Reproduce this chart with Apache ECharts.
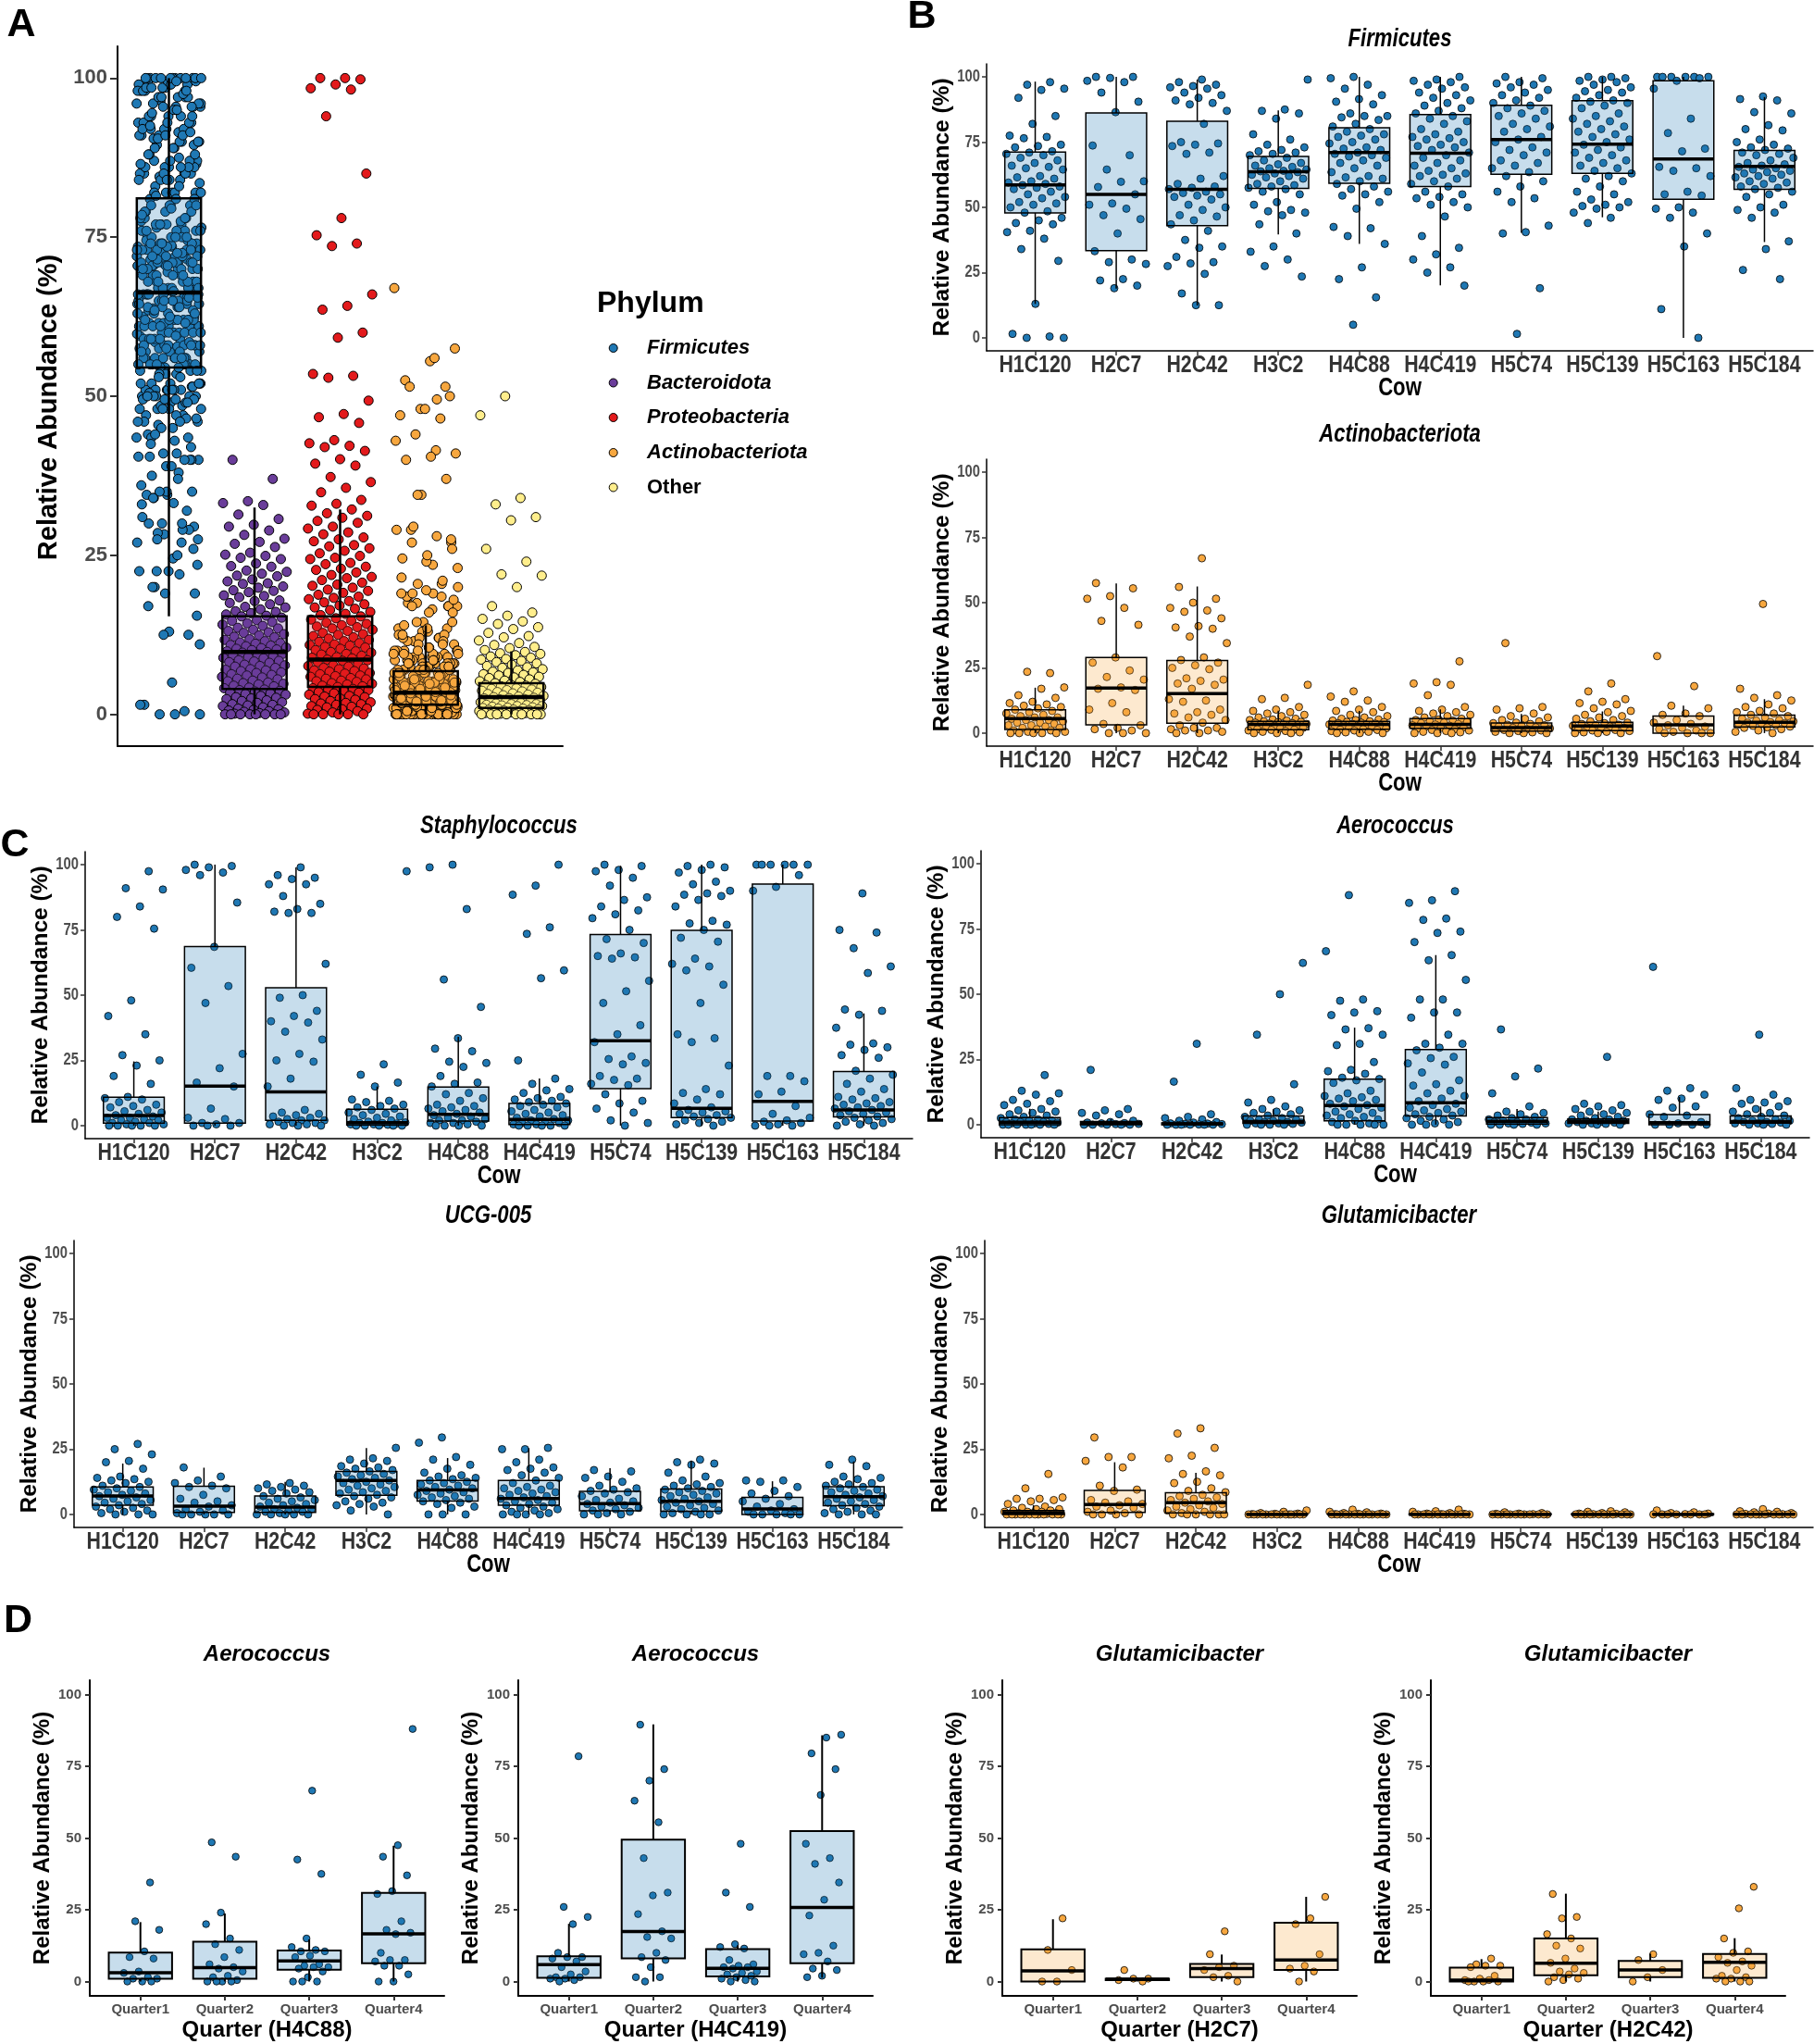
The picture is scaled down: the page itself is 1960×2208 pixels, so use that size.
<!DOCTYPE html>
<html>
<head>
<meta charset="utf-8">
<script src="https://cdn.jsdelivr.net/npm/echarts@6.0.0/dist/echarts.min.js"></script>
<style>html,body{margin:0;padding:0;background:#fff;}#chart{width:1960px;height:2208px;}</style>
</head>
<body>
<div id="chart"></div>
<script>
// ---------------- DATA ----------------
const cows = ['H1C120','H2C7','H2C42','H3C2','H4C88','H4C419','H5C74','H5C139','H5C163','H5C184'];
const quarters = ['Quarter1','Quarter2','Quarter3','Quarter4'];
const phyla = ['Firmicutes','Bacteroidota','Proteobacteria','Actinobacteriota','Other'];
const yTicks = [0,25,50,75,100];

// box stats: [lowerWhisker, Q1, median, Q3, upperWhisker]
const phylumBox = [[15.4,54.5,66.3,81.1,100],[0,4,9.8,15.4,32.5],[0,4.3,8.6,15.4,32.2],[0,1.5,3.4,6.8,14],[0,1,2.7,4.9,9.9]];

const firmicutesBox = [[13,47.9,58.6,71.2,98.2],[18.9,33.4,55,86.2,100],[12.4,43,56.9,83,99],[39.6,57.3,63.7,69.5,87.2],[36,59.2,71,80.5,100],[20.1,58,70.8,85.6,100],[40.2,62.7,76,89.1,100],[46.2,63,74.2,90.9,100],[0,53.1,68.5,98.5,100],[36.7,56.9,65.7,71.8,92.3]];
const firmicutesByCow = [
 [98,97,95.5,95,92,85,82,77.5,77,76.5,74,73.5,73,71.5,71,70.5,70,69,68,67,66,65.5,65,64.5,62,61.5,61,60,59.5,59,58.5,58,57.5,57,56,55,54,53.5,52,51.5,51,50,48.5,48,46,45,44,43.5,41,40.5,38,34,29.5,13,1.5,0.5,0,0],
 [100,100,99.6,98.5,98,94,90.5,86.5,73.7,70,64.5,60,59.8,57.8,55,51.5,51,49.5,47,45.5,40,33.2,30,29,28.3,22.5,22,20,19],
 [99,98,97,96.5,96,95.5,94,93,92,91,90,89.5,87,82,75,74.5,74,73.5,71,70.5,62,61,59,58,57.5,57,56,55.5,55,54.5,54,53,51,50,49,47,46.5,45,43.5,41,37.5,35,34.5,31,29,28.5,27.5,24.5,17,12.5,12.5],
 [99,87.5,87,86,84,78,76,74,73,72,71.5,71,70.5,70,69,68,67,66.5,66,65.5,65,64.5,64,63.8,63.5,63,62.5,62,61.5,61,60,59,58.5,58,57.5,57,56,55,52,51,49,48.5,48,47,43.5,40,35,33,30,27.5,23.5],
 [100,99.5,97,95.5,93,91.5,90.5,89.5,86,85,85,84.5,83.5,82,81,80,79,78,77.5,77,76,75,74.5,73,72.5,72,71,70.5,70,69.5,69,68,67,66,65,63.5,62,61.5,61,60,59,58,57,56,55,54.5,52,49.5,42.5,42,39,36,27,22.5,15.5,5],
 [100,99,98.5,98,97,96,95.5,94,93,92,91,90,89,88,87,86,85,84,83,82,80,79,78,77,76.5,76,75,74,73.5,73,72,71,70,69,68,67,66,65,64,63,62.5,62,61,60,59,58,56,55,54,53.5,52,51,50,46.5,39,34.5,32,30,27,25,20],
 [100,99.5,98,97.5,97,96,95,94,93,92,91,90,89,88,87,86,85,84,82,81,80,79,77,76,75,73,72,71,70,68,67,66,65,63.5,62,60,58,56,53.5,52,43,40.5,40,19,1.5],
 [100,100,99.5,99,98.5,98,97,96,95,94.5,94,93,92,91,90.5,90,89,88,86,85,84,83,82,81,80,79,78,77,76,75,74,73,72,71,70,69,68,67,66,65,64,63,62,61,60,58,56,55,53,52,51,50.5,50,49.5,48,46,44],
 [100,100,100,100,100,100,99.5,98.5,95.5,84,78.5,72.5,71.5,65.5,65,64,62,56,55,54.5,50,49.5,48,46,40,35,11,0],
 [92.5,91.5,91,86.5,86,81.5,80,79.5,76,75,74,73,72.5,72,71,70.5,70,69,68,67,66.5,66,65.5,65,64.5,64,63.5,63,62.5,62,61.5,61,60,59.5,59,58,57.5,57,56,55,54,51,50,49,48,46,37,34,26,22.5]
];

const actinoBox = [[0,1.4,5.6,8.9,17.4],[0,3.2,17.3,29,57.4],[0,3.8,15.1,27.8,56.2],[0,1.3,3.3,4.5,8.6],[0,1.5,3.3,4.5,8.5],[0,1.8,3.3,5.6,9.1],[0,0.8,2.1,3.9,7.3],[0,0.9,2.7,4.1,8.3],[0,0,3.2,6.5,10.5],[0,2.4,4.1,6.9,13]];
const actinoByCow = [
 [23,23.5,17.5,17,14.5,13.5,12,11.5,11,10.5,10,9.5,9,8.5,8,7.5,7,6.5,6,6,5.5,5,5,4.5,4,4,3.5,3,3,2.5,2,2,1.5,1,1,0.5,0.5,0,0,0,0,0],
 [57.5,55.5,52.5,51.5,48,43,41.5,29,27,24,21.5,20.5,17.5,17,16.5,11.5,9,8,3.5,3,2,1.5,1,0,0,0],
 [67,56,51.5,50,48,47,46.5,44,41,40.5,40,37,34.5,29,28,27,26,25,24.5,21,20.5,20,19,18.5,17,13,12.5,12,9,8,7.5,7,6,5,4,3,2,2,1.5,1,1,0.5,0,0],
 [18.5,13.5,13,10,9,8.5,8,7.5,7,6.5,6,5.5,5.2,5,4.8,4.5,4.3,4.2,4,3.8,3.6,3.5,3.3,3.2,3,2.8,2.6,2.5,2.2,2,1.8,1.5,1.3,1.2,1,0.8,0.5,0.3,0,0,0],
 [16,14,12.5,12,10,9,8.5,8,7,6.5,6,5.5,5.2,5,4.8,4.5,4.3,4.2,4,3.8,3.6,3.5,3.3,3.2,3,2.8,2.6,2.5,2.2,2,1.8,1.5,1.3,1.2,1,0.8,0.5,0.3,0,0,0],
 [27.5,19.5,19,18.5,14.5,10,9,8.5,8,7.5,7,6.5,6,5.5,5.2,5,4.8,4.5,4.2,4,3.8,3.5,3.3,3,2.8,2.5,2.2,2,1.8,1.5,1.2,1,0.8,0.5,0.3,0,0,0],
 [34.5,10,9.5,9,7.5,6.5,6,5.5,5,4.5,4,3.8,3.5,3.2,3,2.8,2.5,2.2,2,1.8,1.5,1.2,1,0.8,0.5,0.3,0,0,0],
 [19,16,13,12,11.5,11,9.5,8.5,8,7,6.5,6,5.5,5,4.5,4,3.8,3.5,3.2,3,2.8,2.5,2.2,2,1.8,1.5,1.2,1,0.8,0.5,0.3,0,0,0],
 [29.5,18,10.5,9.5,7.5,7,6.5,5,4,3.5,3,2.5,2,1.5,1,0.5,0,0,0,0],
 [49.5,17,14.5,13.5,12.5,11,10,9.5,8.5,8,7.5,7,6.5,6,5.5,5,4.8,4.5,4.2,4,3.8,3.5,3.3,3,2.8,2.5,2.2,2,1.5,1,0.5,0]
];

// Panel A only phyla (all samples pooled)
const bacteroidotaAll = [40,37,33.5,33.2,32.9,31.4,30.7,29.8,29.5,28.9,28.2,27.6,27.1,26.8,26.3,25.4,25.1,24.9,24.6,24.4,23.7,23.3,23.2,22.6,22.4,22.1,21.8,21.7,21.2,20.9,20.6,20.5,20.1,19.9,19.5,19.4,19.2,18.7,18.6,18.4,17.9,17.8,17.5,17.3,16.9,16.8,16.5,16.2,16.1,15.9,15.7,15.5,15.4,15.2,14.8,14.7,14.5,14.3,14.1,13.9,13.6,13.5,13.3,13.1,12.9,12.8,12.6,12.4,12.2,12.1,11.8,11.7,11.5,11.3,11.2,11.1,10.9,10.8,10.7,10.5,10.4,10.3,10.2,10.1,9.9,9.8,9.7,9.5,9.4,9.3,9.1,9,8.9,8.8,8.5,8.4,8.3,8.2,8.1,7.8,7.7,7.6,7.5,7.3,7.1,7,6.9,6.8,6.6,6.5,6.3,6.2,6.1,5.9,5.8,5.6,5.5,5.3,5.2,5,4.9,4.8,4.7,4.5,4.4,4.2,4.1,3.9,3.8,3.7,3.6,3.4,3.3,3.2,3.1,2.9,2.7,2.6,2.5,2.4,2.2,2.1,1.9,1.8,1.6,1.5,1.4,1.3,1.1,0.9,0.8,0.7,0.6,0.5,0.4,0.3,0.2,0.1,0,0,0,0,0,0,0,0];
const proteobacteriaAll = [100,100,99.8,99,98.4,98.2,94,85,78,75.3,74,73.6,66,64.2,63.6,60,59.2,53.5,53.2,52.9,49.3,47.2,46.7,45.8,43.1,42.6,42.2,42,41.4,40.1,39.4,39.1,37.3,36.5,35.6,34.9,33.7,33.1,32.8,32.2,31.6,31.2,30.9,30.4,30.1,29.5,29.2,28.6,28.3,27.8,27.5,27.2,26.6,26.4,26.1,25.7,25.3,24.9,24.6,24.4,23.8,23.6,23.2,22.9,22.7,22.3,21.9,21.6,21.4,21.1,20.7,20.4,20.2,19.9,19.6,19.4,19.1,18.8,18.5,18.3,18.1,17.8,17.6,17.3,17.1,16.8,16.6,16.4,16.1,15.8,15.6,15.4,15.1,14.9,14.7,14.4,14.2,14,13.8,13.7,13.5,13.3,13.1,12.8,12.6,12.5,12.3,12.1,11.9,11.7,11.5,11.4,11.2,11,10.9,10.8,10.6,10.5,10.3,10.1,9.9,9.8,9.7,9.5,9.4,9.2,9,8.9,8.8,8.6,8.5,8.4,8.2,7.9,7.7,7.6,7.5,7.3,7.2,7.1,6.9,6.8,6.7,6.5,6.4,6.3,6.1,6,5.9,5.7,5.6,5.5,5.3,5.2,5.1,4.9,4.8,4.7,4.5,4.4,4.3,4.1,4,3.9,3.8,3.7,3.5,3.4,3.3,3.1,2.9,2.8,2.7,2.5,2.4,2.3,2.1,1.9,1.8,1.7,1.6,1.5,1.3,1.2,1.1,0.9,0.8,0.7,0.5,0.3,0.1,0,0,0,0,0];
const otherAll = [50,47,34,33,31,30.5,26,24,22,21.8,20,17,16,15.5,15,14.6,14.2,13.7,13.4,12.8,12.3,12.1,11.6,11.2,10.9,10.6,10.4,10.1,9.8,9.6,9.5,9.3,9.1,8.9,8.7,8.6,8.4,8.2,8,7.8,7.6,7.4,7.3,7.1,6.9,6.7,6.6,6.5,6.3,6.2,6.1,5.9,5.8,5.7,5.5,5.3,5.2,5.1,4.9,4.8,4.7,4.6,4.5,4.4,4.3,4.1,4,3.9,3.8,3.7,3.6,3.5,3.4,3.3,3.2,3.1,3,2.9,2.8,2.7,2.6,2.55,2.5,2.4,2.35,2.3,2.2,2.1,2,1.95,1.9,1.8,1.7,1.6,1.6,1.5,1.45,1.4,1.3,1.3,1.2,1.1,1.05,1,0.9,0.9,0.8,0.75,0.7,0.65,0.6,0.5,0.5,0.4,0.35,0.3,0.2,0.2,0.1,0,0,0,0,0,0,0,0,0];

const staphBox = [[0,0.9,3.9,10.9,24.6],[0,0.9,15.1,68.6,100],[0,2,12.9,52.8,99],[0,0.2,1.1,6.3,15],[0,1.7,4.3,14.8,34],[0,0.4,2.4,8.5,18.1],[0,14.2,32.5,73.2,99.6],[0,3.1,6.6,74.8,100],[0,1.7,9.3,92.6,100],[0,3.3,6,20.7,43]];
const staphByCow = [
 [97.5,91,90.5,84,80,75.5,48,42,35,27,25,23,19,16,11,10.5,10,9,8,7.5,7,6,5.5,5,4.5,4,3.5,3,3,2.5,2,2,1.5,1,1,0.5,0.5,0,0,0,0,0],
 [100,99.5,99,98,97,96,85.5,68.5,60.5,53.5,47,27.5,22,16.5,15,6.5,3,2.5,1,1,0.5,0,0,0],
 [99,96,95,94.5,92.5,92.5,88,85,83,82,81.5,81.5,62,50,49,44,42,40,39.5,36,33,27.5,25,24.5,18,15,6,5,4.5,4,3.5,3,2.5,2,2,1.5,1,1,0.5,0.5,0,0,0],
 [97.5,23.5,19.5,16.5,15,10,9.5,9,8,7.5,7,6.5,6,5,4.5,4,3.5,3,2.5,2,1.5,1.2,1,1,0.8,0.5,0.5,0.3,0,0,0,0,0],
 [100,99,83,56,45.5,33.5,29.5,28.5,24.5,24,22.5,19,16.5,16,15,12.5,12,10.5,9.5,8,7.5,7,6.5,6,5.5,5,4.5,4,3.5,3,2.5,2,2,1.5,1,1,0.5,0,0,0,0],
 [100,92,88.5,76,73.5,59.5,56.5,25,18,16,14,13.5,12.5,11,10.5,10,9.5,9,8.5,8,7.5,7,6,5.5,5,4.5,4,3.5,3,2.5,2,2,1.5,1,1,0.5,0.5,0,0,0,0,0],
 [100,99.5,98,97.5,95,92,87.5,86.5,84,82.5,81,79.5,75,71.5,70,66,65,64.5,64,55.5,51.5,47,38.5,35,32,26.5,25.5,24,23.5,19,18,17.5,16,15.5,12,9.5,8.5,6.5,5,2,1,0],
 [100,99.5,99,98,97,93.5,92.5,90,89,88.5,88,86.5,84,78.5,77.5,77,75,72,70.5,64,62,61,59.5,54,47,35,33.5,32,23,14,12.5,12,10,8.5,7,6,5.5,5,4.5,4,3.5,3,2.5,2,1.5,1,0.5,0],
 [100,100,100,100,100,100,96,91.5,90,19,19,17,13,12,7.5,4.5,3,2,1.5,1,0.5,0,0,0],
 [89,75,74,68,61,58.5,44.5,44,42.5,37.5,31.5,31,30,29,27,26,21,19.5,18,16,14,13,11,10.5,10,9,8.5,8,7.5,7,6.5,6,5.5,5,4.5,4,3.5,3,2.5,2,1.5,1,0.5,0,0]
];

const aeroBox = [[0,0,0.9,2.7,6.1],[0,0,0.6,1.2,2.1],[0,0,0.35,0.7,1.5],[0,0.5,1.2,3.3,5.9],[0,1.5,7.3,17.4,37.2],[0,3.3,8.4,28.8,65],[0,0.2,1.3,2.7,6],[0,0.5,1.3,2.2,5],[0,0,0.8,3.9,10.6],[0,0.6,1.2,3.3,7]];
const aeroByCow = [
 [19,13,12,11.5,9.5,9,8,7.5,6,5.5,5,4.5,4,3.5,3,2.5,2,2,1.5,1.5,1,1,1,0.8,0.5,0.5,0.3,0,0,0,0,0,0,0],
 [21,6,5.5,4.5,4,3.5,1.5,1,0.8,0.6,0.5,0.3,0.2,0,0,0,0,0],
 [31,16.5,4,3,2.5,2,1.5,1,0.8,0.5,0.4,0.3,0.2,0.1,0,0,0,0,0,0],
 [62,50,34.5,15.5,9.5,8.5,7,6,5.5,5,4.5,4,3.5,3,2.5,2,2,1.5,1.5,1,1,0.8,0.5,0.5,0.3,0,0,0,0],
 [88,66.5,48,47.5,43.5,43,42,37,36.5,34.5,31,30.5,24,21,20.5,19.5,18,17.5,17,16,13,12,11,10.5,10,9.5,9,8,7.5,7,6.5,6,5,4.5,4,3.5,3,2.5,2,1.5,1,0.5,0,0,0,0,0],
 [89.5,86,85,79,78.5,74,73.5,70,65,63,55.5,48,48,43,43,41,34.5,31,31,29.5,28.5,26,25.5,23.5,23,20,17,15.5,15,13,12,11,10,9,8,7.5,6.5,6,5.5,5,4.5,4,3.5,3,2.5,2,1.5,1,0.5,0,0,0],
 [36.5,21.5,18.5,12,7,5,4.5,4,3.5,3,2.5,2,2,1.5,1.5,1,1,0.8,0.5,0.5,0.3,0,0,0,0],
 [26,8,7.5,7,6,5.5,5,4.5,4,3.5,3,2.5,2,2,1.5,1.5,1,1,0.8,0.5,0.5,0.3,0,0,0],
 [60.5,14,13,11.5,10,9.5,7,6.5,4,3.5,3,1,0.5,0,0,0,0],
 [34.5,14,11.5,9.5,9,8.5,8,7,6,5,4.5,4,3.5,3,2.5,2,1.5,1.5,1,1,0.8,0.5,0.5,0.3,0,0,0]
];

const ucgBox = [[0,3.5,7.1,10.5,19.5],[0,0.8,3.2,10.8,17.9],[0,0.8,2.8,7.1,12.5],[0,7.3,13,16.5,25.4],[0,5.1,9.4,13,21.6],[0,3.5,6.1,13,25.4],[0,1.4,4.1,8.8,17.7],[0,1.2,5,9.7,20.6],[0,0,2.1,6.5,12.7],[0,3.3,6.8,10.6,20.3]];
const ucgByCow = [
 [27,25,23,20.5,20,17.5,14.5,14,13.5,13,12.5,12,11,10.5,10,9.5,9,8.5,8,7.5,7,6.5,6,5.5,5,4.5,4,3.5,3,2.5,2,1.5,1,0.5,0,0,0],
 [18,14.5,13,12,11,10.5,10,7.5,6,5,4.5,3.5,3,2,1.5,1,0.5,0,0,0,0,0],
 [12,11.5,11,10.5,10,9.5,9,8.5,8,7,6.5,6,5.5,5,4.5,4,3.5,3,2.5,2,2,1.5,1,1,0.5,0,0,0,0,0],
 [25.5,21.5,21,20.5,19.5,18.5,18,17.5,17,16.5,16,15.5,15,14.5,14,13.5,13,12.5,12,11.5,11,10.5,10,9.5,9,8.5,8,7.5,7,6.5,6,5,4.5,4,3.5,3,1.5,0],
 [29.5,27.5,22,21,19,17.5,16,15,14.5,14,13.5,13,12.5,12,11.5,11,10.5,10,9.5,9,8.5,8,7.5,7,6.5,6,5.5,5,4.5,4,3,2.5,0,0,0],
 [25.5,25,25,21,20,18,17.5,17,16,15,14,13,12,11,10.5,10,9.5,9,8.5,8,7.5,7,6.5,6,5.5,5,4.5,4,3.5,3,2.5,2,1.5,1,0.5,0,0,0,0],
 [17,16.5,14.5,14,12.5,11,10,9.5,9,8.5,8,7,6,5.5,5,4.5,4,3.5,3,2.5,2,1.5,1,0.5,0,0,0],
 [21,20,19.5,19,16,14.5,13,12,11.5,11,10.5,10,9.5,9,8.5,8,7.5,7,6.5,6,5.5,5,4.5,4,3.5,3,2.5,2,1.5,1,0.5,0,0,0,0],
 [13,13,12.5,10.5,9,8,7,6,5,4,3,2,1.5,1,0.5,0,0,0,0,0],
 [21,19,18.5,14.5,14,13.5,12.5,12,11.5,11,10.5,10,9.5,9,8.5,8,7.5,7,6.5,6,5.5,5,4.5,4,3.5,3,2.5,2,1.5,1,0.5,0,0,0]
];

const glutBox = [[0,0,0.6,1.5,3.5],[0,0.8,3.8,9.2,20],[0,0.6,4.5,8.3,15.9],[0,0,0,0.2,0.5],[0,0,0,0.2,0.5],[0,0,0,0.2,0.5],[0,0,0,0.2,0.5],[0,0,0,0.2,0.5],[0,0,0,0.2,0.5],[0,0,0.1,0.3,0.7]];
const glutByCow = [
 [15.5,10,6.5,6,6,5.5,5,4,3,2.5,2,2,1.5,1.5,1,1,1,0.5,0.5,0.5,0.3,0.2,0,0,0,0,0,0,0,0,0,0,0,0],
 [29.5,22,22,20.5,18,11,9.5,9,5.5,5,4.5,4,3.5,3,2.5,1.5,1,0.5,0,0,0,0],
 [33,31,25.5,22.5,21.5,16.5,15.5,15,12.5,12,10,9,8.5,7.5,7,6.5,6,5.5,5,4.5,4,3.5,3,2.5,2,1.5,1,0.5,0,0,0,0,0,0],
 [1.5,1,0.5,0.3,0.2,0.1,0,0,0,0,0,0,0,0,0,0,0,0,0,0],
 [1.8,1,0.8,0.5,0.3,0.2,0.1,0,0,0,0,0,0,0,0,0,0,0,0,0],
 [1.8,1.2,1,0.5,0.3,0.2,0.1,0,0,0,0,0,0,0,0,0,0,0,0,0],
 [0.8,0.5,0.3,0.2,0.1,0,0,0,0,0,0,0,0,0,0,0,0],
 [1.2,1,0.8,0.5,0.3,0.2,0.1,0,0,0,0,0,0,0,0,0,0,0],
 [1.5,0.8,0.5,0.3,0.1,0,0,0,0,0,0,0],
 [2,1.2,1,0.8,0.5,0.3,0.2,0.1,0,0,0,0,0,0,0,0,0,0]
];

// Panel D (per quarter)
const aeroH4C88Box = [[0,1,3.1,10.1,20.7],[0,1,4.8,13.9,23.7],[0,4.1,7.2,10.8,14.7],[0,6.4,16.6,30.9,47.3]];
const aeroH4C88 = [[34.5,21,18,10.5,8.5,8,3.5,3,1.5,1,1,0,0,0],[48.5,43.5,24,20,15,13,11,8.5,6,5,4.5,3.5,2,1.5,0.5,0,0,0,0],[66.5,42.5,37.5,15,12,11,10.5,10.5,9,8.5,6,5.5,5,5,4.5,3.5,1.5,0,0,0],[88,47.5,43.5,37,31.5,30.5,21,18,17,16.5,10,7.5,7.5,7,5.5,5.5,2.5,0,0]];
const aeroH4C419Box = [[0,1.3,5.9,8.8,20.1],[0,8.1,17.4,49.4,89.6],[0,1.8,4.6,11.3,12.6],[1.3,6.4,25.8,52.4,85.8]];
const aeroH4C419 = [[78.5,26,22.5,20,10,8.5,8.5,8,7,5,3.5,2.5,1.5,1.5,1,1,0.5,0],[89.5,74,70,63,55.5,43,31,30,23.5,17.5,15.5,15,10,8.5,7.5,5,1.5,1.5,0],[48,31,26,13,12,11.5,7.5,6,5.5,5,5,4.5,3.5,3,2.5,2,1.5,1,0.5,0,0],[86,85,79.5,74,65,48,43,41,34.5,28.5,23,12.5,10,9.5,7,4.5,4,2,1.5]];
const glutH2C7Box = [[0,0,3.7,11.2,21.7],[0,0.5,0.8,1,1.2],[0,1.5,4.5,6.1,9.4],[0,4,7.5,20.5,29.5]];
const glutH2C7 = [[22,11,4,0,0],[4,1,1,0.5,0],[17.5,9.5,5.5,5,4,2,1.5,0],[29.5,22,20,9.5,5.5,4.5,3.5,0]];
const glutH2C42Box = [[0,0,0.5,4.8,7.8],[0,2.2,6.4,15,30.6],[0,1.5,4,7.2,9.7],[0,1.3,6.7,9.6,15.1]];
const glutH2C42 = [[8,6,5.5,5.5,5,2,1,0.5,0.5,0,0,0,0],[30.5,22.5,22,16.5,15,12.5,11.5,8,6.5,4.5,3.5,3,2.5,1.5,1,0.5,0],[9.5,7.5,4,1.5,0],[33,25.5,15,10.5,10,8.5,7,6.5,5.5,4,2,1.5,1,1,0,0,0]];

// ---------------- STYLE / LAYOUT ----------------
const FONT = "'Liberation Sans', Arial, Helvetica, sans-serif";
const NARROW_SCALE = 0.82; // emulate a condensed bold face by horizontal scaling
const COL = {blue:'#1F78B4', purple:'#6A3D9A', red:'#E31A1C', orange:'#F7A73F', yellow:'#FFEE8C'};
const FILL = {blue:'rgba(31,120,180,0.25)', purple:'rgba(106,61,154,0.25)', red:'rgba(227,26,28,0.25)', orange:'rgba(247,167,63,0.25)', yellow:'rgba(255,238,140,0.3)'};

const grids=[], xAxes=[], yAxes=[], series=[], graphics=[];

// deterministic horizontal jitter offset (layout only, not data)
function jit(j, ci){ const f = ((j+1)*0.6180339887 + ci*0.4142 + 0.13) % 1; return f*2-1; }

function txt(x, y, text, size, o){
  o = o || {};
  graphics.push({type:'text', x:x, y:y, rotation:o.rot||0, scaleX:o.sx||1, z:100, silent:true,
    style:{text:text, fill:o.color||'#000', fontSize:size, fontWeight:o.weight||'bold',
      fontStyle:o.italic?'italic':'normal', fontFamily:FONT,
      textAlign:o.align||'center', textVerticalAlign:'middle', align:o.align||'center', verticalAlign:'middle'}});
}

function makeBox(p){
  return function(params, api){
    const x = api.value(0), lo=api.value(1), q1=api.value(2), med=api.value(3), q3=api.value(4), hi=api.value(5);
    const hw = 0.375;
    const a = api.coord([x-hw, q3]), b = api.coord([x+hw, q1]);
    const t = api.coord([x, hi]), bt = api.coord([x, lo]), m = api.coord([x, med]);
    const fill = p.boxFills ? p.boxFills[params.dataIndex] : p.boxFill;
    return {type:'group', children:[
      {type:'line', shape:{x1:t[0],y1:t[1],x2:t[0],y2:a[1]}, style:{stroke:'#000', lineWidth:p.boxLW}},
      {type:'line', shape:{x1:bt[0],y1:b[1],x2:bt[0],y2:bt[1]}, style:{stroke:'#000', lineWidth:p.boxLW}},
      {type:'rect', shape:{x:a[0],y:a[1],width:b[0]-a[0],height:Math.max(b[1]-a[1],0.5)}, style:{fill:fill, stroke:'#000', lineWidth:p.boxLW}},
      {type:'line', shape:{x1:a[0],y1:m[1],x2:b[0],y2:m[1]}, style:{stroke:'#000', lineWidth:p.medLW}}
    ]};
  };
}

function addPanel(p){
  const gi = grids.length;
  const n = p.boxes.length;
  const catVals = Array.from({length:n}, (_, i) => i+1);
  const narrow = !!p.narrow;
  grids.push({left:p.left, top:p.top, width:p.width, height:p.height});
  xAxes.push({type:'value', gridIndex:gi, min:0.4, max:n+0.6,
    axisLine:{show:true, onZero:false, lineStyle:{color:'#000', width:p.axisW}},
    axisTick:{show:!!p.cats, customValues:catVals, length:p.tickLen, lineStyle:{color:'#333', width:p.axisW}},
    axisLabel:{show:!!p.cats && !narrow, customValues:catVals, formatter:(v)=> p.cats ? p.cats[Math.round(v)-1] : '',
      margin:p.xLabMargin, fontFamily:FONT, fontSize:p.xLabSize, fontWeight:'bold', color:p.xLabColor},
    splitLine:{show:false}});
  yAxes.push({type:'value', gridIndex:gi, min:-5, max:105,
    axisLine:{show:true, onZero:false, lineStyle:{color:'#000', width:p.axisW}},
    axisTick:{show:true, customValues:yTicks, length:p.tickLen, lineStyle:{color:'#333', width:p.axisW}},
    axisLabel:{show:!narrow, customValues:yTicks, margin:p.yLabMargin, fontFamily:FONT, fontSize:p.yLabSize, fontWeight:'bold', color:'#4D4D4D'},
    splitLine:{show:false}});
  p.points.forEach((arr, ci) => {
    series.push({type:'scatter', xAxisIndex:gi, yAxisIndex:gi, silent:true, animation:false, z:2,
      symbol:'circle', symbolSize:p.ptSize,
      itemStyle:{color:p.ptColors ? p.ptColors[ci] : p.ptColor, borderColor:'#000', borderWidth:p.ptBorder, opacity:1},
      data: arr.map((v, j) => [ci+1 + jit(j, ci)*p.jw, v])});
  });
  series.push({type:'custom', xAxisIndex:gi, yAxisIndex:gi, silent:true, animation:false, z:3,
    renderItem:makeBox(p), encode:{x:0, y:[1,2,3,4,5]},
    data: p.boxes.map((b, i) => [i+1].concat(b))});
  if (narrow) {
    // condensed tick labels placed through the axes' own scales
    series.push({type:'custom', xAxisIndex:gi, yAxisIndex:gi, silent:true, animation:false, z:5, clip:false,
      encode:{x:0, y:1}, data: catVals.map(v => [v, -5]),
      renderItem:(params, api) => { const c = api.coord([api.value(0), api.value(1)]);
        return {type:'text', x:c[0], y:c[1] + p.xLabOffset, scaleX:NARROW_SCALE,
          style:{text:p.cats[params.dataIndex], fontFamily:FONT, fontWeight:'bold', fontSize:p.xLabSize, fill:p.xLabColor, align:'center', verticalAlign:'middle'}}; }});
    series.push({type:'custom', xAxisIndex:gi, yAxisIndex:gi, silent:true, animation:false, z:5, clip:false,
      encode:{x:0, y:1}, data: yTicks.map(v => [0.4, v]),
      renderItem:(params, api) => { const c = api.coord([api.value(0), api.value(1)]);
        return {type:'text', x:c[0] - p.yLabMargin, y:c[1], scaleX:NARROW_SCALE,
          style:{text:String(yTicks[params.dataIndex]), fontFamily:FONT, fontWeight:'bold', fontSize:p.yLabSize, fill:'#4D4D4D', align:'right', verticalAlign:'middle'}}; }});
  }
  const cx = p.left + p.width/2, cy = p.top + p.height/2;
  const sx = narrow ? NARROW_SCALE : 1;
  if (p.title) txt(cx, p.titleY, p.title, p.titleSize, {italic:true, sx:sx});
  txt(p.left - p.yTitleGap, p.yTitleY || cy, 'Relative Abundance (%)', p.yTitleSize, {rot:Math.PI/2});
  if (p.xTitle) txt(cx, p.top + p.height + p.xTitleGap, p.xTitle, p.xTitleSize, {sx:sx});
}

// Panel A
addPanel({left:127, top:50, width:481, height:756, boxes:phylumBox, cats:null,
  points:[firmicutesByCow.flat(), bacteroidotaAll, proteobacteriaAll, actinoByCow.flat(), otherAll],
  ptColors:[COL.blue, COL.purple, COL.red, COL.orange, COL.yellow], boxFills:[FILL.blue, FILL.purple, FILL.red, FILL.orange, FILL.yellow],
  axisW:2, tickLen:8, yLabSize:22, yLabMargin:11, ptSize:10, ptBorder:1, jw:0.38, boxLW:2.5, medLW:4.5,
  yTitleGap:74, yTitleSize:29, yTitleY:440});

// Panel B & C common
function bc(extra){
  return Object.assign({width:893, height:310, cats:cows, narrow:true, axisW:1.5, tickLen:5, yLabSize:18, yLabMargin:7,
    xLabSize:26, xLabColor:'#333', xLabOffset:16, ptSize:8, ptBorder:0.8, jw:0.37, boxLW:1.5, medLW:3.5,
    titleSize:27, yTitleGap:48, yTitleSize:24.5, xTitle:'Cow', xTitleSize:27, xTitleGap:41}, extra);
}
addPanel(bc({left:1066, top:69, boxes:firmicutesBox, points:firmicutesByCow, ptColor:COL.blue, boxFill:FILL.blue, title:'Firmicutes', titleY:43}));
addPanel(bc({left:1066, top:496, boxes:actinoBox, points:actinoByCow, ptColor:COL.orange, boxFill:FILL.orange, title:'Actinobacteriota', titleY:470}));
addPanel(bc({left:92, top:920, width:894, boxes:staphBox, points:staphByCow, ptColor:COL.blue, boxFill:FILL.blue, title:'Staphylococcus', titleY:893}));
addPanel(bc({left:1060, top:919, width:895, boxes:aeroBox, points:aeroByCow, ptColor:COL.blue, boxFill:FILL.blue, title:'Aerococcus', titleY:893}));
addPanel(bc({left:80, top:1340, width:895, boxes:ucgBox, points:ucgByCow, ptColor:COL.blue, boxFill:FILL.blue, title:'UCG-005', titleY:1314}));
addPanel(bc({left:1064, top:1340, width:895, boxes:glutBox, points:glutByCow, ptColor:COL.orange, boxFill:FILL.orange, title:'Glutamicibacter', titleY:1314}));

// Panel D
function dd(extra){
  return Object.assign({top:1815, width:383, height:341, cats:quarters, axisW:2, tickLen:5, yLabSize:15, yLabMargin:9,
    xLabSize:15, xLabColor:'#4D4D4D', xLabMargin:7, ptSize:7.5, ptBorder:0.8, jw:0.23, boxLW:2, medLW:3.5,
    titleSize:24, titleY:1787, yTitleGap:51, yTitleSize:24, xTitleSize:24, xTitleGap:37}, extra);
}
addPanel(dd({left:97, boxes:aeroH4C88Box, points:aeroH4C88, ptColor:COL.blue, boxFill:FILL.blue, title:'Aerococcus', xTitle:'Quarter (H4C88)'}));
addPanel(dd({left:560, boxes:aeroH4C419Box, points:aeroH4C419, ptColor:COL.blue, boxFill:FILL.blue, title:'Aerococcus', xTitle:'Quarter (H4C419)'}));
addPanel(dd({left:1083, boxes:glutH2C7Box, points:glutH2C7, ptColor:COL.orange, boxFill:FILL.orange, title:'Glutamicibacter', xTitle:'Quarter (H2C7)'}));
addPanel(dd({left:1546, boxes:glutH2C42Box, points:glutH2C42, ptColor:COL.orange, boxFill:FILL.orange, title:'Glutamicibacter', xTitle:'Quarter (H2C42)'}));

// panel letters
txt(23, 27, 'A', 43); txt(996, 18, 'B', 43); txt(16, 913, 'C', 43); txt(19.5, 1751, 'D', 43);

// legend for panel A
txt(645, 328, 'Phylum', 32, {align:'left'});
const legY = [376, 413.5, 451, 489, 526.5];
const legCols = [COL.blue, COL.purple, COL.red, COL.orange, COL.yellow];
phyla.forEach((name, i) => {
  graphics.push({type:'circle', z:100, silent:true, shape:{cx:662.7, cy:legY[i], r:4.5}, style:{fill:legCols[i], stroke:'#000', lineWidth:1}});
  txt(699, legY[i], name, 22, {align:'left', italic: name !== 'Other'});
});

const chart = echarts.init(document.getElementById('chart'), null, {renderer:'canvas'});
chart.setOption({animation:false, backgroundColor:'#fff', grid:grids, xAxis:xAxes, yAxis:yAxes, series:series, graphic:graphics});
</script>
</body>
</html>
